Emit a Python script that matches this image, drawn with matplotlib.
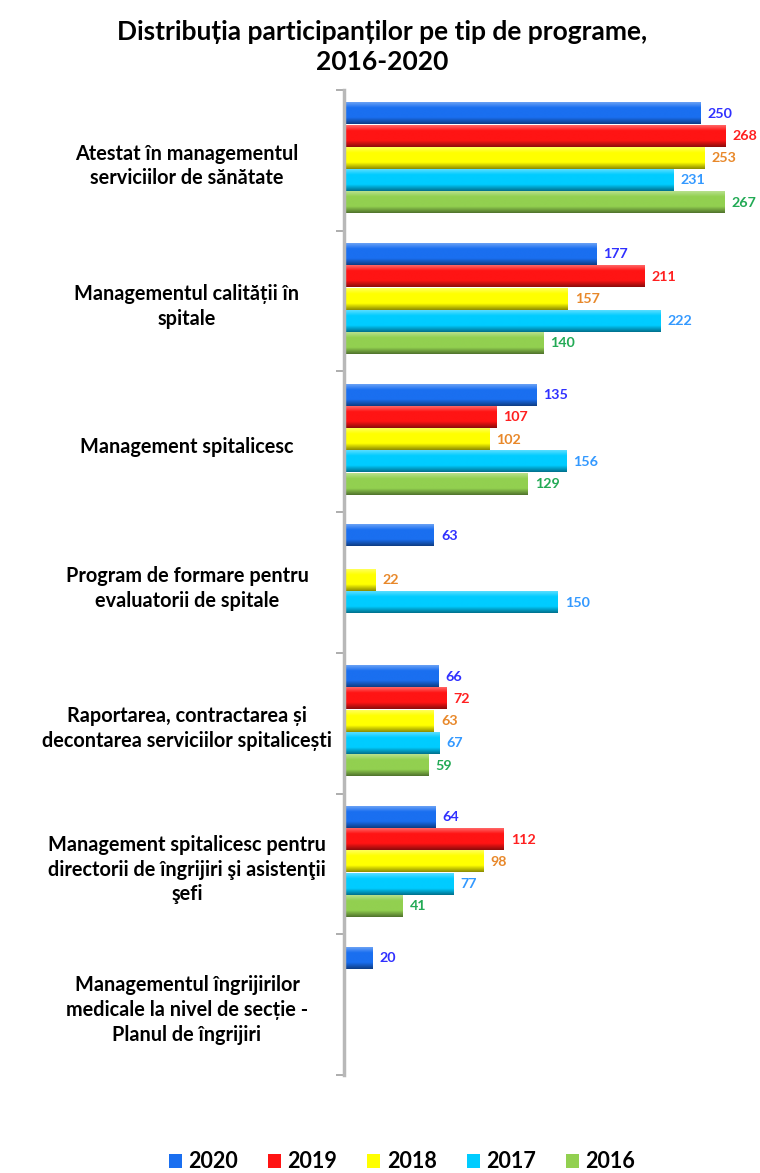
import numpy as np
import matplotlib
matplotlib.use("Agg")
import matplotlib.pyplot as plt
from matplotlib.colors import LinearSegmentedColormap, to_rgb
from matplotlib.patches import Patch
import matplotlib.transforms as mtransforms

plt.rcParams['font.family'] = ['Lato', 'DejaVu Sans']

categories = [
    "Atestat în managementul\nserviciilor de sănătate",
    "Managementul calității în\nspitale",
    "Management spitalicesc",
    "Program de formare pentru\nevaluatorii de spitale",
    "Raportarea, contractarea și\ndecontarea serviciilor spitalicești",
    "Management spitalicesc pentru\ndirectorii de îngrijiri şi asistenţii\nşefi",
    "Managementul îngrijirilor\nmedicale la nivel de secție -\nPlanul de îngrijiri",
]
years = ["2020", "2019", "2018", "2017", "2016"]
v2020 = [250, 177, 135, 63, 66, 64, 20]
v2019 = [268, 211, 107, None, 72, 112, None]
v2018 = [253, 157, 102, 22, 63, 98, None]
v2017 = [231, 222, 156, 150, 67, 77, None]
v2016 = [267, 140, 129, None, 59, 41, None]
series = [v2020, v2019, v2018, v2017, v2016]

bar_colors = ["#1a6ff0", "#ff1414", "#ffff00", "#00ccff", "#92d050"]
label_colors = ["#3030ff", "#ff2020", "#e8882a", "#3399ff", "#22aa55"]
title = "Distribuția participanților pe tip de programe,\n2016-2020"

fig = plt.figure(figsize=(7.6, 11.73), dpi=100)
ax = fig.add_axes([344/760, 1-1075/1173, 1-344/760, (1075-90)/1173])

n = len(categories)
h = 0.158
offsets = (np.arange(5) - 2) * h - 0.015

def grad_cmap(c):
    r = np.array(to_rgb(c))
    light = np.clip(r + (1 - r) * 0.35, 0, 1)
    dark = r * 0.55
    return LinearSegmentedColormap.from_list("g", [(0, light), (0.25, r), (0.7, r), (1, dark)])

grad = np.linspace(0, 1, 64).reshape(-1, 1)
for si, vals in enumerate(series):
    cm = grad_cmap(bar_colors[si])
    for ci, v in enumerate(vals):
        if v is None:
            continue
        yc = ci + offsets[si]
        ax.imshow(grad, cmap=cm, aspect='auto', interpolation='bilinear',
                  extent=(0, v, yc + h / 2 * 0.95, yc - h / 2 * 0.95), zorder=2)
        ax.text(v + 5, yc, str(v), color=label_colors[si], fontsize=10.3,
                fontweight='bold', va='center', ha='left', zorder=3)

ax.set_xlim(0, 292)
ax.set_ylim(n - 0.5, -0.5)
ax.set_xticks([])
ax.set_yticks(np.arange(-0.5, n, 1.0))
ax.set_yticklabels([])
ax.tick_params(axis='y', length=6, width=1.2, color='#a0a0a0', direction='out')
for s in ['top', 'right', 'bottom']:
    ax.spines[s].set_visible(False)
ax.spines['left'].set_color('#b8b8b8')
ax.spines['left'].set_linewidth(2.5)

trans = mtransforms.blended_transform_factory(fig.transFigure, ax.transData)
for ci, cat in enumerate(categories):
    ax.text(187/760, ci + 0.04, cat, transform=trans, ha='center', va='center',
            fontsize=14.3, fontweight='bold', color='black', linespacing=1.3)

fig.text(382/760, 1 - 47/1173, title, ha='center', va='center', fontsize=19,
         fontweight='bold', linespacing=1.3)

handles = [Patch(facecolor=c, edgecolor='none') for c in bar_colors]
leg = fig.legend(handles, years, loc='center', bbox_to_anchor=(402/760, 1 - 1162/1173),
                 ncol=5, frameon=False, handlelength=0.6, handleheight=0.6,
                 handletextpad=0.3, columnspacing=1.4,
                 prop={'weight': 'bold', 'size': 15.5})

fig.savefig("out.png", dpi=100)
